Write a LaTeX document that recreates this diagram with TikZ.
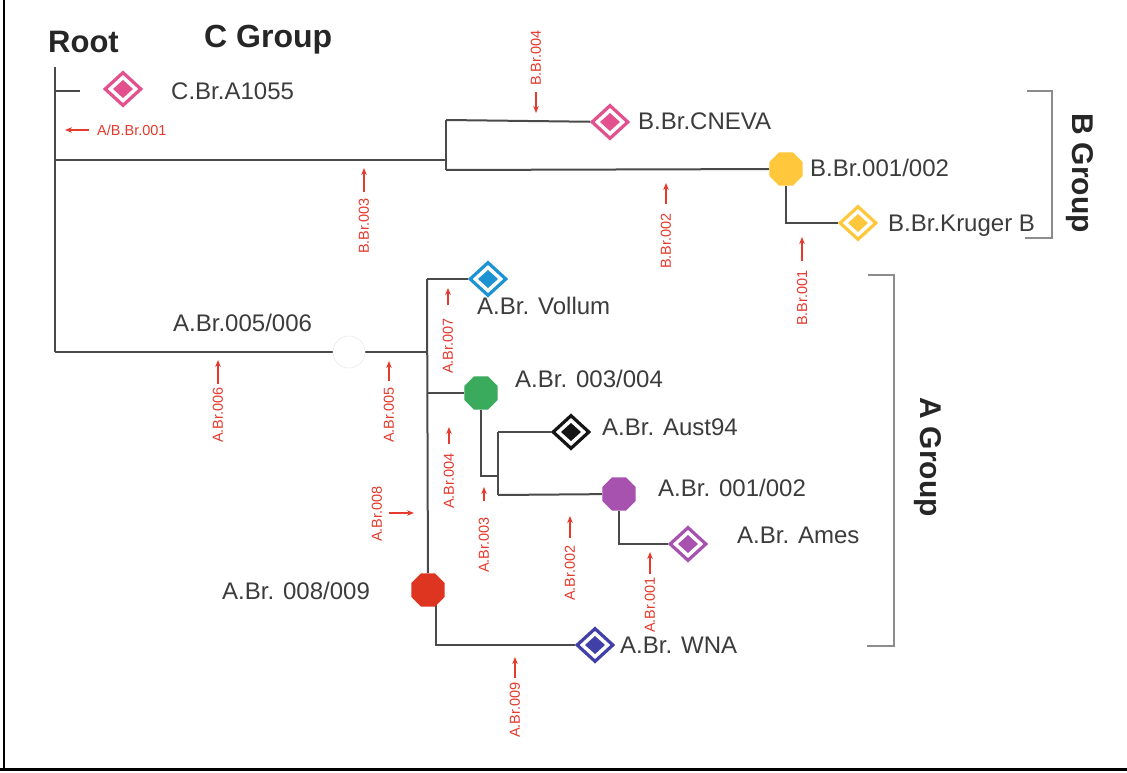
\documentclass[tikz,border=0pt]{standalone}
\usepackage{fontspec}
\setmainfont{Liberation Sans}
\usetikzlibrary{shapes.geometric,arrows.meta,backgrounds}
\definecolor{treeline}{HTML}{4A4A4A}
\definecolor{labtext}{HTML}{3C3C3C}
\definecolor{markred}{HTML}{E53A2E}
\definecolor{cpink}{HTML}{E2508E}
\definecolor{byellow}{HTML}{FFC83C}
\definecolor{ablue}{HTML}{1E93D3}
\definecolor{agreen}{HTML}{3AAA5C}
\definecolor{apurple}{HTML}{A652AE}
\definecolor{aindigo}{HTML}{4040A8}
\definecolor{ared}{HTML}{DE3521}
\definecolor{ablack}{HTML}{151515}
\definecolor{bracketgray}{HTML}{8C8C8C}
\newcommand\mkbr[6]{%
  \coordinate (#1tip) at (#2,#3);
  \coordinate (#1tail) at (#2,#4);
  \draw[redarr] (#1tail) -- (#1tip);
  \node[redlab,rotate=90] (#1lab) at (#2,#5) {#6};}
\begin{document}
\begin{tikzpicture}[x=1pt,y=-1pt,
  tree/.style={draw=treeline,line width=2pt},
  leafdia/.style={diamond,draw=#1,line width=3.2pt,fill=white,
    minimum width=37,minimum height=34,inner sep=0,
    path picture={\fill[#1]
      ([xshift=-10pt]path picture bounding box.center) --
      ([yshift=9pt]path picture bounding box.center) --
      ([xshift=10pt]path picture bounding box.center) --
      ([yshift=-9pt]path picture bounding box.center) -- cycle;}},
  octa/.style={regular polygon,regular polygon sides=8,fill=#1,draw=none,
    minimum size=36,inner sep=0},
  lab/.style={anchor=base west,inner sep=0,text=labtext,
    font=\fontsize{24}{28}\selectfont},
  redlab/.style={inner sep=0,text=markred,font=\fontsize{14.5}{17}\selectfont},
  redarr/.style={draw=markred,line width=1.3pt,-{Stealth[length=7pt,width=5.5pt]}},
  grp/.style={inner sep=0,text=black!85,font=\bfseries\fontsize{30}{34}\selectfont},
  bracket/.style={draw=bracketgray,line width=1.5pt}
]
\useasboundingbox (0,0) rectangle (1127,773);
% frame
\draw[line width=2.5pt,black] (4,0) -- (4,771);
\draw[line width=2.5pt,black] (0,769.5) -- (1127,769.5);

% titles
\node[anchor=base west,inner sep=0,text=black!85,font=\bfseries\fontsize{31}{34}\selectfont] (roottitle) at (48,53) {Root};
\node[anchor=base west,inner sep=0,text=black!85,font=\bfseries\fontsize{32}{36}\selectfont] (ctitle) at (204,48) {C Group};

% junction coordinates
\coordinate (rtop) at (55,67);
\coordinate (rC) at (55,91);
\coordinate (cEnd) at (80,91);
\coordinate (rB) at (55,160);
\coordinate (rA) at (55,352);
\coordinate (jB) at (446,160);
\coordinate (jBt) at (446,120);
\coordinate (jBb) at (446,170);
\coordinate (jA) at (427,352);
\coordinate (jAt) at (427,279);
\coordinate (jG) at (427,393);
\coordinate (jG3) at (498,476);
\coordinate (jAuT) at (498,432);
\coordinate (jAuB) at (498,495);
\coordinate (jW1) at (436,590);
\coordinate (jW2) at (436,645);

% leaves and internal nodes
\node[leafdia=cpink] (cbr) at (123,89) {};
\node[leafdia=cpink] (cneva) at (610,122) {};
\node[octa=byellow] (yoct) at (786,169) {};
\node[leafdia=byellow] (kruger) at (858,223) {};
\node[circle,fill=white,draw=black!8,line width=0.6pt,minimum size=32,inner sep=0] (wcirc) at (349,352) {};
\node[leafdia=ablue] (vollum) at (488,279) {};
\node[octa=agreen] (goct) at (481,393) {};
\node[leafdia=ablack] (aust) at (571,432) {};
\node[octa=apurple] (poct) at (619,494) {};
\node[leafdia=apurple] (ames) at (688,544) {};
\node[octa=ared] (roct) at (428,590) {};
\node[leafdia=aindigo] (wna) at (595,645) {};

% tree connectors
\begin{pgfonlayer}{background}
\fill[white] (0,0) rectangle (1127,773);
\draw[tree] (rtop) -- (rA);
\draw[tree] (rC) -- (cEnd);
\draw[tree] (rB) -- (jB);
\draw[tree] (jBt) -- (jBb);
\draw[tree] (jBt) -- (cneva);
\draw[tree] (jBb) -- (yoct);
\draw[tree] (yoct) |- (kruger);
\draw[tree] (rA) -- (wcirc);
\draw[tree] (wcirc) -- (jA);
\draw[tree] (jAt) -- (roct);
\draw[tree] (jAt) -- (vollum);
\draw[tree] (jG) -- (goct);
\draw[tree] (goct) |- (jG3);
\draw[tree] (jAuT) -- (jAuB);
\draw[tree] (jAuT) -- (aust);
\draw[tree] (jAuB) -- (poct);
\draw[tree] (poct) |- (ames);
\draw[tree] (jW1) -- (jW2) -- (wna);
\end{pgfonlayer}

% leaf labels
\node[lab] (lcbr) at (171,100) {C.Br.A1055};
\node[lab] (lcneva) at (638,130) {B.Br.CNEVA};
\node[lab] (lyoct) at (810,176) {B.Br.001/002};
\node[lab] (lkruger) at (888,231) {B.Br.Kruger B};
\node[lab] (lwcirc) at (173,331) {A.Br.005/006};
\node[lab] (lvollum) at (477,314) {A.Br. Vollum};
\node[lab] (lgoct) at (515,387) {A.Br. 003/004};
\node[lab] (laust) at (602,435) {A.Br. Aust94};
\node[lab] (lpoct) at (658,496) {A.Br. 001/002};
\node[lab] (lames) at (737,543) {A.Br. Ames};
\node[lab] (lroct) at (222,599) {A.Br. 008/009};
\node[lab] (lwna) at (620,653) {A.Br. WNA};

% group brackets
\draw[bracket] (1027,91) -- (1052,91) -- (1052,238) -- (1025,238);
\draw[bracket] (868,275) -- (894,275) -- (894,646) -- (867,646);
\node[grp,rotate=-90] (bgroup) at (1080,173) {B Group};
\node[grp,rotate=-90] (agroup) at (928,457) {A Group};

% red branch markers
\coordinate (abtip) at (65,130);
\coordinate (abtail) at (89,130);
\draw[redarr] (abtail) -- (abtip);
\node[redlab,anchor=west] (ablab) at (97,130) {A/B.Br.001};

\mkbr{bfour}{536}{113}{92}{58}{B.Br.004}
\mkbr{bthree}{364}{168}{192}{226}{B.Br.003}
\mkbr{btwo}{666}{183}{204}{241}{B.Br.002}
\mkbr{bone}{802}{237}{261}{298}{B.Br.001}
\mkbr{asix}{218}{360}{384}{415}{A.Br.006}
\mkbr{afive}{389}{361}{381}{415}{A.Br.005}
\mkbr{aseven}{448}{288}{305}{346}{A.Br.007}
\mkbr{afour}{449}{427}{444}{481}{A.Br.004}
\mkbr{athree}{484}{487}{501}{545}{A.Br.003}
\mkbr{atwo}{570}{516}{538}{573}{A.Br.002}
\mkbr{aone}{650}{552}{574}{605}{A.Br.001}
\mkbr{anine}{515}{657}{678}{710}{A.Br.009}

\coordinate (aeighttail) at (389,513);
\coordinate (aeighttip) at (414,513);
\draw[redarr] (aeighttail) -- (aeighttip);
\node[redlab,rotate=90] (aeightlab) at (377,514) {A.Br.008};
\end{tikzpicture}
\end{document}
